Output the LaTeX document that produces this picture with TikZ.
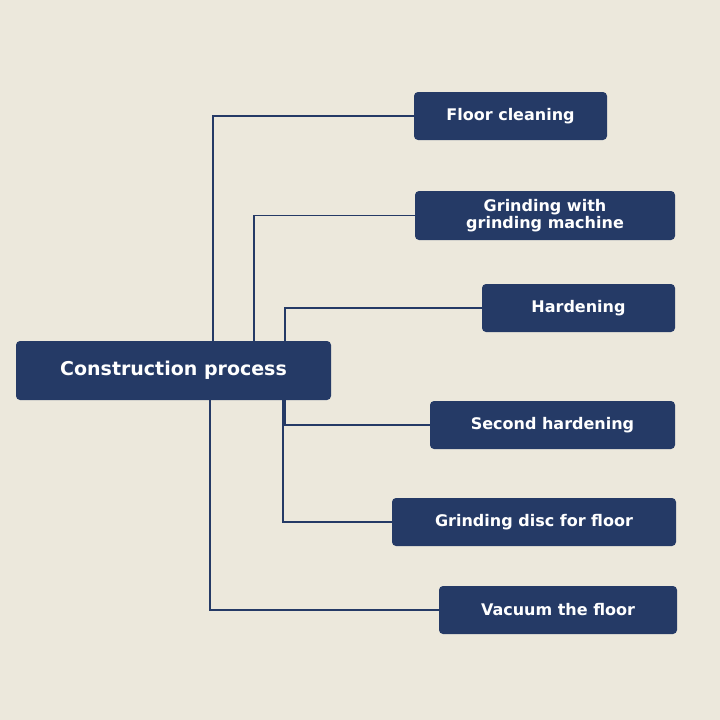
\documentclass[tikz,border=0pt]{standalone}
\usepackage{fontspec}
\setmainfont{DejaVu Sans}
\definecolor{bg}{HTML}{ECE8DC}
\definecolor{navy}{HTML}{253A66}
\begin{document}
\begin{tikzpicture}[x=1pt,y=-1pt,
  box/.style={fill=navy,rounded corners=4pt,text=white,font=\bfseries\fontsize{16}{17}\selectfont,align=center,inner sep=0pt},
  link/.style={draw=navy,line width=1.6pt}]
\fill[bg] (0,0) rectangle (720,720);
\useasboundingbox (0,0) rectangle (720,720);
\node[box,minimum width=315pt,minimum height=59pt,font=\bfseries\fontsize{19}{20}\selectfont] (root) at (173.5,370.5) {Construction process};
\node[box,minimum width=193pt,minimum height=48pt] (a) at (510.5,116) {Floor cleaning};
\node[box,minimum width=260pt,minimum height=49pt] (b) at (545,215.5) {Grinding with\\grinding machine};
\node[box,minimum width=193pt,minimum height=48pt] (c) at (578.5,308) {Hardening};
\node[box,minimum width=245pt,minimum height=48pt] (d) at (552.5,425) {Second hardening};
\node[box,minimum width=284pt,minimum height=48pt] (e) at (534,522) {Grinding disc for floor};
\node[box,minimum width=238pt,minimum height=48pt] (f) at (558,610) {Vacuum the floor};
\draw[link] (root.north -| 213,0) |- (a.west);
\draw[link] (root.north -| 254,0) |- (b.west);
\draw[link] (root.north -| 285,0) |- (c.west);
\draw[link] (root.south -| 285,0) |- (d.west);
\draw[link] (root.south -| 283,0) |- (e.west);
\draw[link] (root.south -| 210,0) |- (f.west);
\end{tikzpicture}
\end{document}
